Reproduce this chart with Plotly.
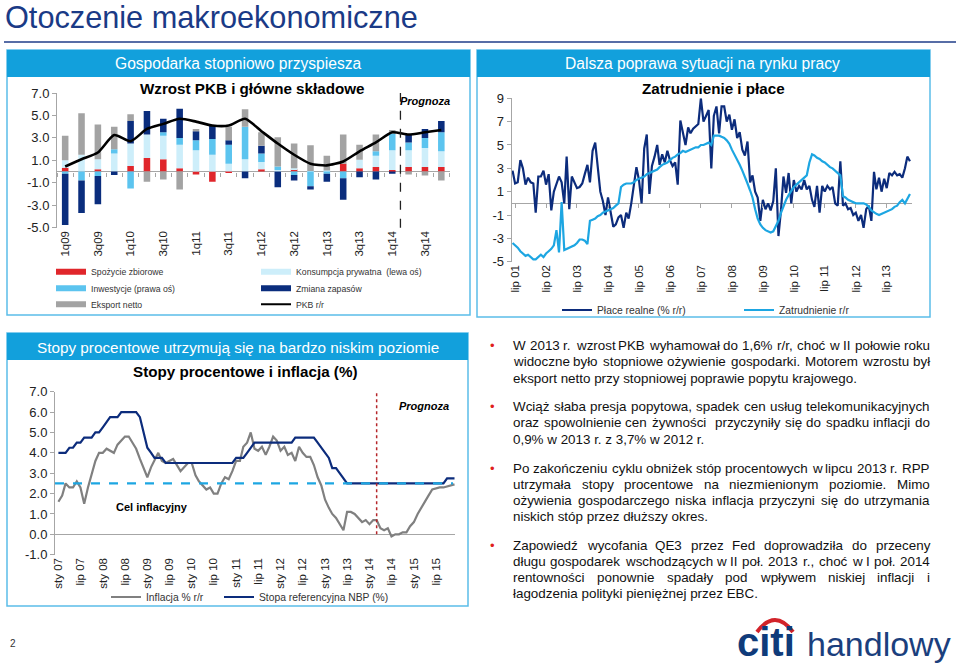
import pandas as pd
import plotly.graph_objects as go

W, H = 960, 669
def fx(x): return x / W
def fy(y): return 1 - y / H

FONT = "Liberation Sans, Arial, sans-serif"

NAVY = "#0c2c7c"
SKY = "#1da6e2"
HEADER = "#12a0dc"
FRAME = "#5bbde9"
AXIS = "#a6a6a6"
TXT = "#222222"

# ---------------- Chart 1: Wzrost PKB i główne składowe ----------------
quarters = ["1q09", "2q09", "3q09", "4q09", "1q10", "2q10", "3q10", "4q10",
            "1q11", "2q11", "3q11", "4q11", "1q12", "2q12", "3q12", "4q12",
            "1q13", "2q13", "3q13", "4q13", "1q14", "2q14", "3q14", "4q14"]
spozycie_zb = [0.35, 0.0, 0.2, 0.0, 0.5, 1.2, 1.1, 0.3, -0.25, -0.9, -0.05, 0.0,
               0.2, 0.0, 0.2, 0.0, 0.0, 0.7, 0.3, 0.4, 0.15, 0.4, 0.4, 0.4]
konsumpcja = [0.65, 1.5, 0.9, 1.6, 2.0, 2.1, 2.1, 2.1, 1.9, 1.5, 0.7, 1.1,
              0.65, 0.15, 0.1, 0.05, 0.1, 0.0, 0.75, 1.0, 1.75, 1.5, 1.7, 1.4]
inwestycje = [-0.2, -0.8, -0.4, 0.4, -1.5, 0.0, 0.3, 0.6, 0.9, 1.4, 1.7, 2.9,
              0.75, 0.3, -0.3, -1.3, -0.2, -0.6, 0.0, 0.4, 1.5, 0.7, 0.9, 1.7]
zapasy = [-4.55, -2.9, -2.5, -0.3, 2.0, 2.1, 1.2, 2.6, 0.8, 1.2, 0.4, -0.6,
          0.7, -1.4, -0.5, -0.3, -0.7, -1.9, -0.5, -0.7, -0.2, 0.7, 0.8, 1.0]
eksport = [2.2, 3.7, 3.1, 2.0, 0.6, -0.9, -0.7, -1.6, 0.2, 0.0, 1.2, 1.55,
           1.2, 2.6, 2.2, 2.3, 1.3, 2.6, 1.35, 1.5, 0.3, -0.25, -0.35, -0.8]
pkb = [0.45, 1.1, 1.7, 3.25, 2.7, 3.8, 4.25, 4.7, 4.45, 4.1, 4.1, 4.7,
       3.6, 2.5, 1.5, 0.7, 0.55, 0.9, 1.8, 2.6, 3.5, 3.3, 3.5, 3.7]
pkb_last_actual = "1q14"
y1_ticks = [-5, -3, -1, 1, 3, 5, 7]
y1_range = [-5, 7]

# ---------------- Chart 2: Zatrudnienie i płace (monthly, from Jun 2001) ----------------
place_realne = [
    2.8, 1.7, 1.8, 3.7, 3.0, 1.6, 2.2, 1.8, 1.7, -0.8, 2.3, 2.3, 2.8, 1.6, 2.5, -0.6,
    1.0, 1.7, 2.3, 1.8, 0.0, 4.0, -0.5, 2.3, 1.7, 1.3, 1.4, 1.7, 2.5, 3.3, 1.8, 4.5,
    5.2, 3.0, 1.0, 0.2, -1.0, 0.5, -0.8, -2.0, -1.8, -1.2, -1.0, -2.1, -0.8, -1.3, 0.0, 1.5,
    3.1, 2.0, 0.0, 4.7, 5.9, 0.8, 3.2, 4.0, 5.0, 3.3, 4.2, 3.5, 4.5, 3.7, 3.2, 3.5,
    1.6, 7.1, 6.0, 5.0, 6.5, 6.0, 6.4, 6.6, 6.8, 9.0, 7.0, 7.5, 8.0, 3.0, 7.5, 8.3,
    6.0, 8.3, 8.3, 7.0, 7.6, 6.3, 7.2, 5.6, 6.1, 4.6, 4.1, 5.3, 1.8, 2.4, 1.0, 0.5,
    -1.5, 0.3, -0.5, 0.0, -0.6, 0.2, 3.0, -2.8, -0.5, 2.3, 0.9, 2.6, 0.0, 2.0, 1.0, 1.5,
    1.2, 2.0, 1.2, 1.5, 0.3, -0.3, 1.5, -0.8, 1.5, 1.0, 1.5, 1.2, 1.4, 0.0, -0.2, 3.6,
    -0.2, 0.0, -0.5, -0.4, -1.0, -0.8, -1.5, -1.0, -2.1, -0.5, -0.2, -1.5, 2.7, 1.2, 2.2, 1.0,
    2.1, 1.3, 2.6, 2.4, 2.7, 2.4, 2.5, 2.2, 3.0, 4.0, 3.6]
zatrudnienie = [
    -3.4, -3.6, -3.8, -4.1, -4.3, -4.5, -4.4, -4.6, -4.8, -4.8, -4.6, -4.4, -4.6, -4.3, -4.1, -3.9,
    -3.6, -2.3, -4.2, 0.1, -4.0, -3.9, -3.8, -3.7, -3.6, -3.4, -3.1, -3.1, -3.2, -3.5, -1.5, -1.4,
    -1.3, -1.1, -1.0, -0.8, -0.7, -0.6, -0.5, -0.4, -0.2, 0.0, 1.4, 1.6, 1.7, 1.7, 1.7, 1.8,
    2.0, 2.1, 2.2, 2.3, 2.5, 2.6, 2.7, 2.8, 2.9, 3.1, 3.3, 3.4, 3.5, 3.7, 3.9, 4.0,
    4.2, 4.3, 4.5, 4.4, 4.5, 4.6, 4.7, 4.8, 4.8, 5.0, 5.0, 5.1, 5.2, 5.0, 5.8, 5.8,
    5.8, 5.7, 5.6, 5.4, 5.1, 4.6, 4.2, 3.8, 3.3, 2.8, 2.3, 1.7, 1.1, 0.5, -0.5, -1.3,
    -1.8, -2.1, -2.3, -2.4, -2.5, -2.4, -2.0, -1.5, -0.8, -0.2, 0.3, 0.7, 1.1, 1.4, 1.6, 1.8,
    2.0, 2.2, 2.4, 3.5, 4.2, 4.1, 3.9, 3.8, 3.6, 3.5, 3.3, 3.1, 3.0, 2.8, 2.6, 2.4,
    0.6, 0.5, 0.3, 0.2, 0.1, 0.0, 0.0, 0.0, 0.0, -0.1, -0.3, -0.6, -0.8, -0.9, -1.0, -0.9,
    -0.8, -0.7, -0.6, -0.5, -0.3, -0.2, 0.1, 0.3, 0.0, 0.4, 0.8]
labour_start = "2001-06-01"
labour_tick_years = list(range(2001, 2014))
y2_ticks = [-5, -3, -1, 1, 3, 5, 7, 9]
y2_range = [-5, 9]
x2_range = ["2001-05-22", "2014-04-25"]

# ---------------- Chart 3: Stopy procentowe i inflacja (monthly, from Jan 2007) ----------------
inflacja = [
    1.6, 1.9, 2.5, 2.3, 2.3, 2.6, 2.3, 1.5, 2.3, 3.0, 3.6, 4.0,
    4.0, 4.2, 4.1, 4.0, 4.4, 4.6, 4.8, 4.8, 4.5, 4.2, 3.7, 3.3,
    2.8, 3.3, 3.6, 4.0, 3.6, 3.5, 3.6, 3.7, 3.4, 3.1, 3.3, 3.5,
    3.5, 2.9, 2.6, 2.4, 2.2, 2.3, 2.0, 2.0, 2.5, 2.8, 2.7, 3.1,
    3.6, 3.6, 4.3, 4.5, 5.0, 4.2, 4.1, 4.3, 3.9, 4.3, 4.8, 4.6,
    4.1, 4.3, 3.9, 4.0, 3.6, 4.3, 4.0, 3.8, 3.8, 3.4, 2.8, 2.4,
    1.7, 1.3, 1.0, 0.8, 0.5, 0.2, 1.1, 1.1, 1.0, 0.8, 0.6, 0.7,
    0.5, 0.7, 0.7, 0.3, 0.2, 0.3, -0.1, 0.0, 0.0, 0.1, 0.1, 0.4,
    0.6, 1.0, 1.3, 1.6, 1.9, 2.2, 2.25, 2.3, 2.3, 2.35, 2.4, 2.45]
stopa_nbp = [
    4.0, 4.0, 4.0, 4.25, 4.25, 4.5, 4.5, 4.75, 4.75, 4.75, 5.0, 5.0,
    5.25, 5.5, 5.75, 5.75, 5.75, 6.0, 6.0, 6.0, 6.0, 6.0, 5.75, 5.0,
    4.25, 4.0, 3.75, 3.75, 3.75, 3.5, 3.5, 3.5, 3.5, 3.5, 3.5, 3.5,
    3.5, 3.5, 3.5, 3.5, 3.5, 3.5, 3.5, 3.5, 3.5, 3.5, 3.5, 3.5,
    3.75, 3.75, 3.75, 4.0, 4.25, 4.5, 4.5, 4.5, 4.5, 4.5, 4.5, 4.5,
    4.5, 4.5, 4.5, 4.5, 4.75, 4.75, 4.75, 4.75, 4.75, 4.75, 4.5, 4.25,
    4.0, 3.75, 3.25, 3.25, 3.0, 2.75, 2.5, 2.5, 2.5, 2.5, 2.5, 2.5,
    2.5, 2.5, 2.5, 2.5, 2.5, 2.5, 2.5, 2.5, 2.5, 2.5, 2.5, 2.5,
    2.5, 2.5, 2.5, 2.5, 2.5, 2.5, 2.5, 2.5, 2.5, 2.75, 2.75, 2.75]
cel_inflacyjny = 2.5
rates_start = "2007-01-01"
prognoza_start = "2014-03-01"
y3_ticks = list(range(-1, 8))

# ---------------- Text ----------------
paragraphs = [
    ["W 2013 r. wzrost PKB wyhamował do 1,6% r/r, choć w II połowie roku",
     "widoczne było stopniowe ożywienie gospodarki. Motorem wzrostu był",
     "eksport netto przy stopniowej poprawie popytu krajowego."],
    ["Wciąż słaba presja popytowa, spadek cen usług telekomunikacyjnych",
     "oraz spowolnienie cen żywności  przyczyniły się do spadku inflacji do",
     "0,9% w 2013 r. z 3,7% w 2012 r."],
    ["Po zakończeniu cyklu obniżek stóp procentowych w lipcu 2013 r. RPP",
     "utrzymała stopy procentowe na niezmienionym poziomie. Mimo",
     "ożywienia gospodarczego niska inflacja przyczyni się do utrzymania",
     "niskich stóp przez dłuższy okres."],
    ["Zapowiedź wycofania QE3 przez Fed doprowadziła do przeceny",
     "długu gospodarek wschodzących w II poł. 2013 r., choć w I poł. 2014",
     "rentowności ponownie spadały pod wpływem niskiej inflacji i",
     "łagodzenia polityki pieniężnej przez EBC."],
]
para_top = [345.7, 406.7, 468.3, 545.0]
line_step = 16.2
TEXT_L, TEXT_R, TEXT_SIZE = 511, 928, 13.4

# Arial / Liberation Sans advance widths (1/1000 em) for justification
_W = {' ': 278, ',': 278, '.': 278, '/': 278, '%': 889, '(': 333, ')': 333, '-': 333, ':': 278,
      'A': 667, 'B': 667, 'C': 722, 'D': 722, 'E': 667, 'F': 611, 'G': 778, 'H': 722, 'I': 278,
      'J': 500, 'K': 667, 'L': 556, 'M': 833, 'N': 722, 'O': 778, 'P': 667, 'Q': 778, 'R': 722,
      'S': 667, 'T': 611, 'U': 722, 'V': 667, 'W': 944, 'X': 667, 'Y': 667, 'Z': 611,
      'a': 556, 'b': 556, 'c': 500, 'd': 556, 'e': 556, 'f': 278, 'g': 556, 'h': 556, 'i': 222,
      'j': 222, 'k': 500, 'l': 222, 'm': 833, 'n': 556, 'o': 556, 'p': 556, 'q': 556, 'r': 333,
      's': 500, 't': 278, 'u': 556, 'v': 500, 'w': 722, 'x': 500, 'y': 500, 'z': 500,
      'ą': 556, 'ć': 500, 'ę': 556, 'ł': 222, 'ń': 556, 'ó': 556, 'ś': 500, 'ź': 500, 'ż': 500,
      'Ł': 556, 'Ś': 667, 'Ż': 611, 'Ź': 611}
def text_w(s, size):
    return sum(_W.get(ch, 556) for ch in s) * size / 1000.0

fig = go.Figure()

# --- Chart 1 traces
bar_series = [
    ("Spożycie zbiorowe", spozycie_zb, "#e0262b", "legend"),
    ("Konsumpcja prywatna  (lewa oś)", konsumpcja, "#cdeefa", "legend4"),
    ("Inwestycje (prawa oś)", inwestycje, "#5cc4ef", "legend2"),
    ("Zmiana zapasów", zapasy, "#0a2d7d", "legend5"),
    ("Eksport netto", eksport, "#a3a3a3", "legend3"),
]
for name, vals, col, _ in bar_series:
    fig.add_trace(go.Bar(x=quarters, y=vals, name=name, marker_color=col,
                         marker_line_width=0, showlegend=False, xaxis="x", yaxis="y"))
fig.add_trace(go.Scatter(x=quarters, y=pkb, mode="lines", name="PKB r/r",
                         line=dict(color="black", width=2.6, shape="spline", smoothing=0.6),
                         showlegend=False, xaxis="x", yaxis="y"))
for name, vals, col, lg in bar_series:
    fig.add_trace(go.Scatter(x=[None], y=[None], mode="lines", name=name,
                             line=dict(color=col, width=6), legend=lg, xaxis="x", yaxis="y"))
fig.add_trace(go.Scatter(x=[None], y=[None], mode="lines", name="PKB r/r",
                         line=dict(color="black", width=2), legend="legend6", xaxis="x", yaxis="y"))

# --- Chart 2 traces
lab_dates = pd.date_range(labour_start, periods=len(place_realne), freq="MS")
lab_dates2 = pd.date_range(labour_start, periods=len(zatrudnienie), freq="MS")
fig.add_trace(go.Scatter(x=lab_dates, y=place_realne, mode="lines", name="Płace realne (% r/r)",
                         line=dict(color=NAVY, width=2.2), legend="legend7", xaxis="x2", yaxis="y2"))
fig.add_trace(go.Scatter(x=lab_dates2, y=zatrudnienie, mode="lines", name="Zatrudnienie r/r",
                         line=dict(color=SKY, width=2.2), legend="legend8", xaxis="x2", yaxis="y2"))

# --- Chart 3 traces
r_dates = pd.date_range(rates_start, periods=len(inflacja), freq="MS")
r_dates2 = pd.date_range(rates_start, periods=len(stopa_nbp), freq="MS")
fig.add_trace(go.Scatter(x=r_dates, y=inflacja, mode="lines", name="Inflacja % r/r",
                         line=dict(color="#808080", width=2.2), legend="legend9", xaxis="x3", yaxis="y3"))
fig.add_trace(go.Scatter(x=r_dates2, y=stopa_nbp, mode="lines", name="Stopa referencyjna NBP (%)",
                         line=dict(color=NAVY, width=2.2), legend="legend10", xaxis="x3", yaxis="y3"))

# empty helper traces so the zero-line tick axes get drawn
fig.add_trace(go.Scatter(x=[None], y=[None], mode="lines", showlegend=False, hoverinfo="skip",
                         xaxis="x4", yaxis="y"))
fig.add_trace(go.Scatter(x=[None], y=[None], mode="lines", showlegend=False, hoverinfo="skip",
                         xaxis="x5", yaxis="y2"))

# ---------------- Axes ----------------
tickfont_num = dict(family=FONT, size=13, color=TXT)
tickfont_x = dict(family=FONT, size=11.5, color=TXT)
yax_common = dict(showgrid=False, showline=True, linecolor=AXIS, linewidth=1, ticks="outside",
                  ticklen=4, tickcolor=AXIS, zeroline=True, zerolinecolor=AXIS, zerolinewidth=1,
                  tickfont=tickfont_num, fixedrange=True)
xax_common = dict(showgrid=False, showline=False, ticks="", zeroline=False, tickangle=-90,
                  tickfont=tickfont_x, fixedrange=True)

lab_tickvals = [f"{y}-07-01" for y in labour_tick_years]
lab_ticktext = [f"lip {y % 100:02d}" for y in labour_tick_years]
r_tickvals, r_ticktext = [], []
for y in range(2007, 2016):
    r_tickvals += [f"{y}-01-01", f"{y}-07-01"]
    r_ticktext += [f"sty {y % 100:02d}", f"lip {y % 100:02d}"]

y1_domain = [fy(227.7), fy(93)]
y2_domain = [fy(261.7), fy(98.3)]
x1_domain = [fx(57), fx(449.5)]
x2_domain = [fx(511.7), fx(912)]

def zero_pos(domain, rng):
    return domain[0] + (0 - rng[0]) / (rng[1] - rng[0]) * (domain[1] - domain[0])

fig.update_layout(
    xaxis=dict(domain=x1_domain, range=[-0.5, len(quarters) - 0.5], type="category",
               tickvals=quarters[::2], anchor="y", **xax_common),
    yaxis=dict(domain=y1_domain, range=y1_range, tickvals=y1_ticks,
               ticktext=[f"{v:.1f}" for v in y1_ticks], anchor="x", **yax_common),
    xaxis2=dict(domain=x2_domain, range=x2_range, type="date",
                tickvals=lab_tickvals, ticktext=lab_ticktext, anchor="y2", **xax_common),
    yaxis2=dict(domain=y2_domain, range=y2_range, tickvals=y2_ticks,
                ticktext=[str(v) for v in y2_ticks], anchor="x2", **yax_common),
    xaxis3=dict(domain=[fx(55), fx(455)], range=["2006-12-04", "2015-12-05"], type="date",
                tickvals=r_tickvals, ticktext=r_ticktext, anchor="y3", **xax_common),
    yaxis3=dict(domain=[fy(554.7), fy(391.7)], range=[-1, 7], tickvals=y3_ticks,
                ticktext=[f"{v:.1f}" for v in y3_ticks], anchor="x3", **yax_common),
    xaxis4=dict(domain=x1_domain, overlaying="x", anchor="free", type="linear",
                position=zero_pos(y1_domain, y1_range), range=[-0.5, len(quarters) - 0.5],
                tickvals=[i - 0.5 for i in range(len(quarters) + 1)], ticks="outside", ticklen=4,
                tickcolor=AXIS, showticklabels=False, showline=False, showgrid=False,
                zeroline=False, fixedrange=True),
    xaxis5=dict(domain=x2_domain, overlaying="x2", anchor="free", type="date",
                position=zero_pos(y2_domain, y2_range), range=x2_range,
                tickvals=lab_tickvals, ticks="outside", ticklen=4, tickcolor=AXIS,
                showticklabels=False, showline=False, showgrid=False, zeroline=False, fixedrange=True),
    barmode="relative",
    bargap=0.6,
)

# ---------------- Legends ----------------
legend_pos = {
    "legend": (51, 271.7, 8.7), "legend2": (51, 288.3, 8.7), "legend3": (51, 304.3, 8.7),
    "legend4": (256, 271.7, 8.7), "legend5": (256, 288.3, 8.7), "legend6": (256, 304.3, 8.7),
    "legend7": (557, 310, 10.3), "legend8": (739, 310, 10.3),
    "legend9": (106, 597, 10.3), "legend10": (219, 597, 10.3),
}
for key, (lx, ly, fs) in legend_pos.items():
    fig.update_layout({key: dict(x=fx(lx), y=fy(ly), xanchor="left", yanchor="middle",
                                 xref="paper", yref="paper", bgcolor="rgba(0,0,0,0)",
                                 borderwidth=0, itemwidth=30,
                                 font=dict(family=FONT, size=fs, color="#333333"))})

# ---------------- Shapes ----------------
shapes = []
shapes.append(dict(type="line", xref="paper", yref="paper", x0=fx(4), x1=fx(956), y0=fy(42), y1=fy(42),
                   line=dict(color="#1f3c88", width=1.5)))
for (x0, y0, x1, y1) in [(7, 50, 470, 315), (477, 50, 930, 317), (7, 333, 468, 606)]:
    shapes.append(dict(type="rect", xref="paper", yref="paper", x0=fx(x0), x1=fx(x1), y0=fy(y1), y1=fy(y0),
                       line=dict(color=FRAME, width=1.5), fillcolor="rgba(0,0,0,0)", layer="below"))
for (x0, y0, x1, y1) in [(7, 50, 470, 77), (477, 50, 930, 77), (7, 333, 468, 360)]:
    shapes.append(dict(type="rect", xref="paper", yref="paper", x0=fx(x0), x1=fx(x1), y0=fy(y1), y1=fy(y0),
                       line=dict(width=0), fillcolor=HEADER, layer="below"))
q_idx = quarters.index(pkb_last_actual) + 0.5
shapes.append(dict(type="line", xref="x", yref="y domain", x0=q_idx, x1=q_idx, y0=0, y1=1,
                   line=dict(color="#222222", width=1.3, dash="dash")))
shapes.append(dict(type="line", xref="x3 domain", yref="y3", x0=0.0, x1=0.995, y0=cel_inflacyjny,
                   y1=cel_inflacyjny, line=dict(color=SKY, width=2.2, dash="dash")))
shapes.append(dict(type="line", xref="x3", yref="y3", x0=prognoza_start, x1=prognoza_start, y0=0, y1=7,
                   line=dict(color="#b5262a", width=1.5, dash="dot")))
shapes.append(dict(type="path", xref="paper", yref="paper",
                   path=f"M {fx(757)},{fy(632)} Q {fx(775)},{fy(608)} {fx(793)},{fy(632)}",
                   line=dict(color="#d2232a", width=4)))
fig.update_layout(shapes=shapes)

# ---------------- Annotations ----------------
ann = []
def add_text(text, x, y, size=12, color=TXT, bold=False, italic=False, xanchor="center", family=FONT):
    t = text
    if bold:
        t = f"<b>{t}</b>"
    if italic:
        t = f"<i>{t}</i>"
    ann.append(dict(text=t, x=fx(x), y=fy(y), xref="paper", yref="paper", showarrow=False,
                    xanchor=xanchor, yanchor="middle", font=dict(family=family, size=size, color=color)))

add_text("Otoczenie makroekonomiczne", 3, 17.5, size=30.7, color="#1a3a86", xanchor="left")
add_text("Gospodarka stopniowo przyspiesza", 238, 63.5, size=15.6, color="white")
add_text("Dalsza poprawa sytuacji na rynku pracy", 702, 63.5, size=15.6, color="white")
add_text("Stopy procentowe utrzymują się na bardzo niskim poziomie", 238, 347, size=15.3, color="white")
add_text("Wzrost PKB i główne składowe", 252, 88, size=15.2, color="black", bold=True)
add_text("Zatrudnienie i płace", 713, 88, size=15.2, color="black", bold=True)
add_text("Stopy procentowe i inflacja (%)", 245, 371, size=15.2, color="black", bold=True)
add_text("Prognoza", 425, 100.5, size=11, color="black", bold=True, italic=True)
add_text("Prognoza", 424, 406, size=11, color="black", bold=True, italic=True)
add_text("Cel inflacyjny", 152, 507, size=11, color="black", bold=True)

for top, lines in zip(para_top, paragraphs):
    add_text("•", 492.5, top, size=13, color="#e0201b")
    for i, line in enumerate(lines):
        ly = top + i * line_step
        if i == len(lines) - 1:
            add_text(line, TEXT_L, ly, size=TEXT_SIZE, color="#111111", xanchor="left")
            continue
        tokens = line.split(" ")
        words_w = sum(text_w(t, TEXT_SIZE) for t in tokens)
        gap = (TEXT_R - TEXT_L - words_w) / (len(tokens) - 1)
        xpos = TEXT_L
        for t in tokens:
            if t:
                add_text(t, xpos, ly, size=TEXT_SIZE, color="#111111", xanchor="left")
            xpos += text_w(t, TEXT_SIZE) + gap

add_text("2", 8, 643, size=10, color="#333333", xanchor="left")
add_text("citi", 735, 642, size=40, color="#0f3b7a", bold=True, xanchor="left")
add_text("handlowy", 805, 644, size=34, color="#1b3f7d", xanchor="left")

fig.update_layout(annotations=ann)

fig.update_layout(
    width=W, height=H, margin=dict(l=0, r=0, t=0, b=0, autoexpand=False),
    paper_bgcolor="white", plot_bgcolor="rgba(0,0,0,0)",
    font=dict(family=FONT, color=TXT),
)

fig.write_html("out.html", config={"displayModeBar": False},
               post_script="document.body.style.margin='0px';document.body.style.overflow='hidden';")
